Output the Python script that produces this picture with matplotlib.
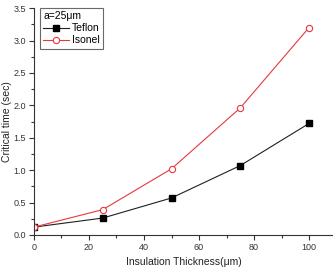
import matplotlib
matplotlib.use('Agg')
import matplotlib.pyplot as plt
from matplotlib.ticker import MultipleLocator

thickness = [0, 25, 50, 75, 100]
teflon = [0.12, 0.26, 0.57, 1.07, 1.72]
isonel = [0.12, 0.39, 1.02, 1.96, 3.20]

plt.rcParams['font.family'] = ['Liberation Sans', 'DejaVu Sans']

fig = plt.figure(figsize=(3.33, 2.70), dpi=100)
ax = fig.add_axes([0.102, 0.13, 0.898, 0.84])

ax.plot(thickness, teflon, color='#202020', lw=0.8, marker='s', ms=4,
        mfc='black', mec='black', label='Teflon')
ax.plot(thickness, isonel, color='#e8383d', lw=0.8, marker='o', ms=4.5,
        mfc='white', mec='#e8383d', mew=0.8, label='Isonel')

ax.set_xlim(0, 108.7)
ax.set_ylim(0, 3.5)
ax.xaxis.set_major_locator(MultipleLocator(20))
ax.xaxis.set_minor_locator(MultipleLocator(10))
ax.yaxis.set_major_locator(MultipleLocator(0.5))
ax.yaxis.set_minor_locator(MultipleLocator(0.25))
ax.tick_params(which='major', direction='out', length=3.5, width=0.8, labelsize=6.5, pad=2, color='#333333', labelcolor='#333333')
ax.tick_params(which='minor', direction='out', length=2, width=0.8, color='#333333')
ax.yaxis.set_major_formatter(matplotlib.ticker.FormatStrFormatter('%.1f'))

for s in ['top', 'right']:
    ax.spines[s].set_visible(False)
for s in ['left', 'bottom']:
    ax.spines[s].set_linewidth(0.8)
    ax.spines[s].set_color('#333333')

ax.set_xlabel('Insulation Thickness(\u03bcm)', fontsize=7.5, labelpad=4, color='#222222')
ax.set_ylabel('Critical time (sec)', fontsize=7.5, labelpad=1, color='#222222')

leg = ax.legend(title='a=25\u03bcm', loc='upper left', bbox_to_anchor=(0.02, 1.0),
                fontsize=7.5, title_fontsize=7.5, frameon=True, fancybox=False,
                edgecolor='#444444', handlelength=2.5, handletextpad=0.3,
                borderpad=0.3, labelspacing=0.2, borderaxespad=0)
leg.get_frame().set_linewidth(0.8)
leg._legend_box.align = 'left'

fig.savefig('out.png', dpi=100)
